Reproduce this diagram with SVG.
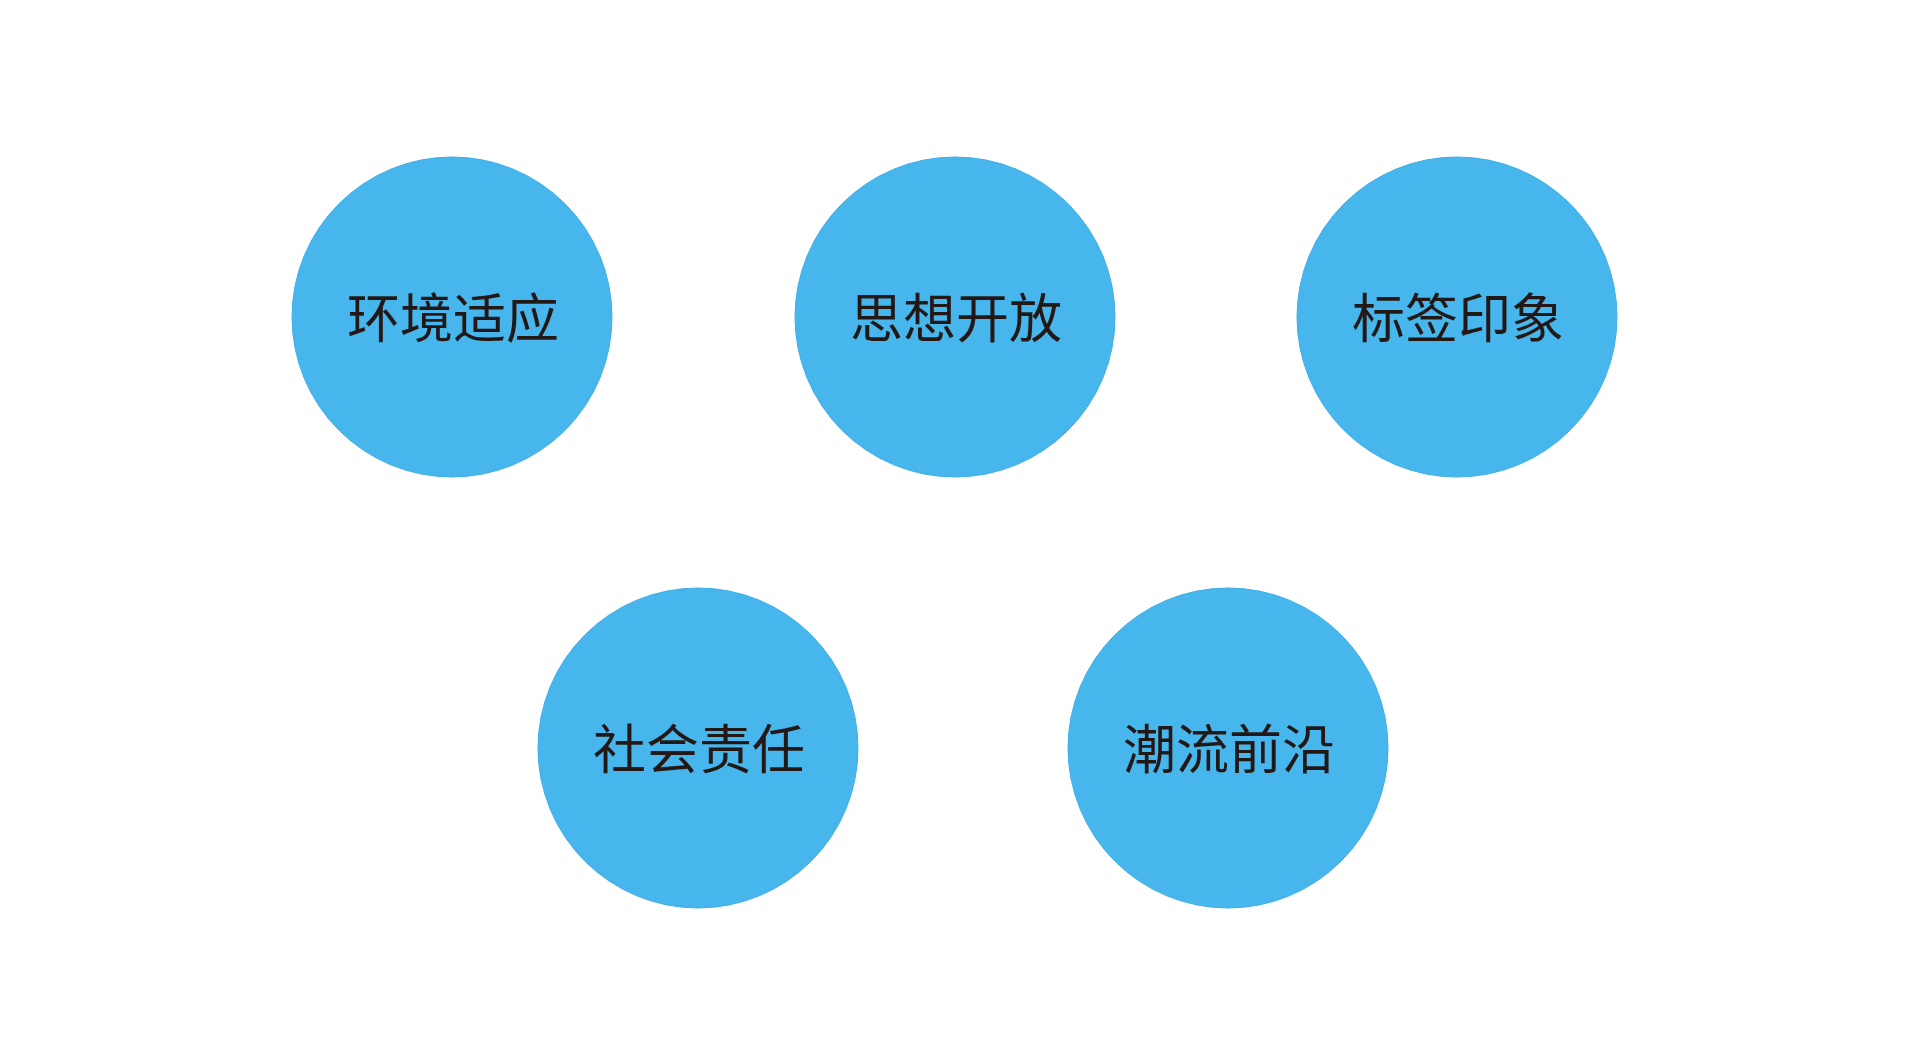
<svg xmlns="http://www.w3.org/2000/svg" width="1920" height="1060" viewBox="0 0 1920 1060">
<style>
.c{fill:#46b6ec;stroke:#3dafe8;stroke-width:1}
.t{font-family:"Noto Sans CJK SC","Noto Sans CJK TC",sans-serif;font-size:53px;fill:#231815;text-anchor:middle}
</style>
<rect width="1920" height="1060" fill="#ffffff"/>
<g id="connectors"></g>
<g id="n1"><circle class="c" cx="452" cy="317" r="160"/><text class="t" x="453" y="338">环境适应</text></g>
<g id="n2"><circle class="c" cx="955" cy="317" r="160"/><text class="t" x="956" y="338">思想开放</text></g>
<g id="n3"><circle class="c" cx="1457" cy="317" r="160"/><text class="t" x="1458" y="338">标签印象</text></g>
<g id="n4"><circle class="c" cx="698" cy="748" r="160"/><text class="t" x="699" y="769">社会责任</text></g>
<g id="n5"><circle class="c" cx="1228" cy="748" r="160"/><text class="t" x="1229" y="769">潮流前沿</text></g>
</svg>
